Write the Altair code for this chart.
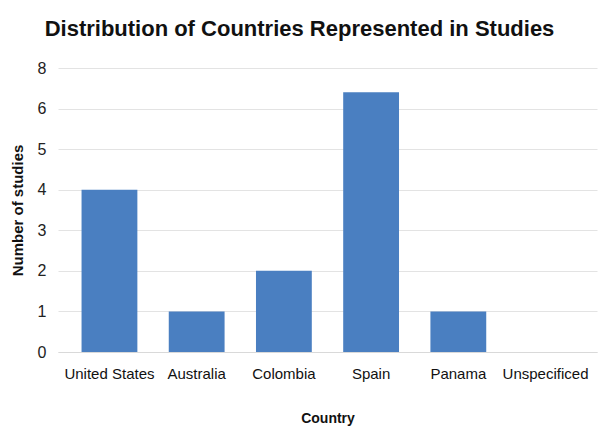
import altair as alt
import pandas as pd

countries = ["United States", "Australia", "Colombia", "Spain", "Panama", "Unspecificed"]
studies = [4, 1, 2, 6.4, 1, 0]
y_ticks = [0, 1, 2, 3, 4, 5, 6, 7]

df = pd.DataFrame({"Country": countries, "Studies": studies})

chart = alt.Chart(df).mark_bar(color="#4a7fc1").encode(
    x=alt.X("Country:N", sort=countries,
            scale=alt.Scale(paddingInner=0.36, paddingOuter=0.27),
            axis=alt.Axis(title="Country", labelAngle=0, ticks=False,
                          labelFont="Liberation Sans", labelFontSize=15,
                          labelColor="#111", labelPadding=14,
                          titleFont="Liberation Sans", titleFontSize=14,
                          titleFontWeight="bold", titleColor="#111", titlePadding=30,
                          domainColor="#d9d9d9", grid=False)),
    y=alt.Y("Studies:Q",
            scale=alt.Scale(domain=[0, 7], nice=False),
            axis=alt.Axis(title="Number of studies", values=y_ticks,
                          labelExpr="datum.value == 7 ? '8' : datum.label",
                          ticks=False, domain=False,
                          labelFont="Liberation Sans", labelFontSize=16,
                          labelColor="#222", labelPadding=12,
                          titleFont="Liberation Sans", titleFontSize=15,
                          titleFontWeight="bold", titleColor="#111", titlePadding=12,
                          gridColor="#e3e3e3")),
).properties(
    width=539, height=284,
    autosize=alt.AutoSizeParams(type="none"),
    padding={"left": 58, "top": 68, "right": 1, "bottom": 76},
    title=alt.TitleParams("Distribution of Countries Represented in Studies",
                          font="Liberation Sans", fontSize=22, fontWeight="bold",
                          color="#111", anchor="middle", dx=-28, offset=19),
).configure_view(stroke=None)

chart.save("out.html", embed_options={"renderer": "svg", "actions": False})
